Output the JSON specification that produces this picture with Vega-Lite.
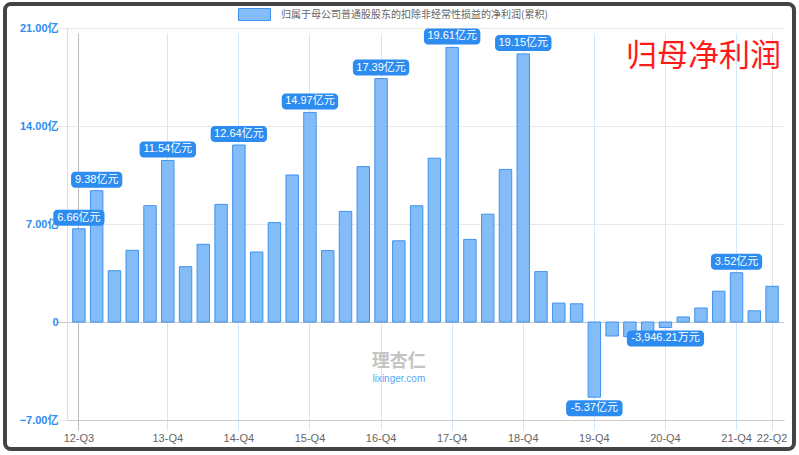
{
  "$schema": "https://vega.github.io/schema/vega-lite/v6.json",
  "width": 789,
  "height": 445,
  "autosize": {"type": "none"},
  "padding": {"left": 5, "top": 4, "right": 5, "bottom": 6},
  "background": "white",
  "config": {
    "view": {"stroke": "#444444", "strokeWidth": 4, "cornerRadius": 6, "fill": "white"}
  },
  "title": {
    "text": "归母净利润",
    "orient": "top",
    "anchor": "end",
    "frame": "group",
    "offset": 0,
    "dy": 99,
    "dx": -13,
    "baseline": "alphabetic",
    "fontSize": 31,
    "font": "Noto Sans CJK SC",
    "fontWeight": "normal",
    "color": "#ff1a1a"
  },
  "data": {
    "values": [
      {"quarter": "12-Q3", "value": 6.66, "label": "6.66亿元"},
      {"quarter": "12-Q4", "value": 9.38, "label": "9.38亿元"},
      {"quarter": "13-Q1", "value": 3.66},
      {"quarter": "13-Q2", "value": 5.12},
      {"quarter": "13-Q3", "value": 8.31},
      {"quarter": "13-Q4", "value": 11.54, "label": "11.54亿元"},
      {"quarter": "14-Q1", "value": 3.95},
      {"quarter": "14-Q2", "value": 5.55},
      {"quarter": "14-Q3", "value": 8.4},
      {"quarter": "14-Q4", "value": 12.64, "label": "12.64亿元"},
      {"quarter": "15-Q1", "value": 5.0},
      {"quarter": "15-Q2", "value": 7.1},
      {"quarter": "15-Q3", "value": 10.5},
      {"quarter": "15-Q4", "value": 14.97, "label": "14.97亿元"},
      {"quarter": "16-Q1", "value": 5.1},
      {"quarter": "16-Q2", "value": 7.9},
      {"quarter": "16-Q3", "value": 11.1},
      {"quarter": "16-Q4", "value": 17.39, "label": "17.39亿元"},
      {"quarter": "17-Q1", "value": 5.8},
      {"quarter": "17-Q2", "value": 8.3},
      {"quarter": "17-Q3", "value": 11.7},
      {"quarter": "17-Q4", "value": 19.61, "label": "19.61亿元"},
      {"quarter": "18-Q1", "value": 5.9},
      {"quarter": "18-Q2", "value": 7.7},
      {"quarter": "18-Q3", "value": 10.9},
      {"quarter": "18-Q4", "value": 19.15, "label": "19.15亿元"},
      {"quarter": "19-Q1", "value": 3.6},
      {"quarter": "19-Q2", "value": 1.35},
      {"quarter": "19-Q3", "value": 1.3},
      {"quarter": "19-Q4", "value": -5.37, "label": "-5.37亿元"},
      {"quarter": "20-Q1", "value": -1.0},
      {"quarter": "20-Q2", "value": -1.05},
      {"quarter": "20-Q3", "value": -0.95},
      {"quarter": "20-Q4", "value": -0.39, "label": "-3,946.21万元"},
      {"quarter": "21-Q1", "value": 0.36},
      {"quarter": "21-Q2", "value": 1.0},
      {"quarter": "21-Q3", "value": 2.2},
      {"quarter": "21-Q4", "value": 3.52, "label": "3.52亿元"},
      {"quarter": "22-Q1", "value": 0.8},
      {"quarter": "22-Q2", "value": 2.55}
    ]
  },
  "layer": [
    {
      "mark": {"type": "bar", "stroke": "#3f92f0", "strokeWidth": 1},
      "encoding": {
        "x": {
          "field": "quarter",
          "type": "ordinal",
          "scale": {
            "domain": ["12-Q3","12-Q4","13-Q1","13-Q2","13-Q3","13-Q4","14-Q1","14-Q2","14-Q3","14-Q4","15-Q1","15-Q2","15-Q3","15-Q4","16-Q1","16-Q2","16-Q3","16-Q4","17-Q1","17-Q2","17-Q3","17-Q4","18-Q1","18-Q2","18-Q3","18-Q4","19-Q1","19-Q2","19-Q3","19-Q4","20-Q1","20-Q2","20-Q3","20-Q4","21-Q1","21-Q2","21-Q3","21-Q4","22-Q1","22-Q2"],
            "range": [62, 779],
            "paddingInner": 0.3,
            "paddingOuter": 0.32
          },
          "axis": {
            "values": ["12-Q3","13-Q4","14-Q4","15-Q4","16-Q4","17-Q4","18-Q4","19-Q4","20-Q4","21-Q4","22-Q2"],
            "title": null,
            "offset": -29,
            "bandPosition": 0.5,
            "grid": true,
            "gridColor": {"condition": [{"test": "datum.value === '12-Q3'", "value": "#bdbdbd"}, {"test": "datum.value === '22-Q2'", "value": "#e3e3e3"}], "value": "#d3e6fb"},
            "tickColor": {"condition": [{"test": "datum.value === '12-Q3'", "value": "#bdbdbd"}, {"test": "datum.value === '22-Q2'", "value": "#e3e3e3"}], "value": "#d3e6fb"},
            "tickSize": 10,
            "domainColor": "#cccccc",
            "labelColor": "#666666",
            "labelFontSize": 11,
            "labelFont": "Liberation Sans",
            "labelPadding": 2,
            "labelAngle": 0,
            "labelOverlap": false
          }
        },
        "y": {
          "field": "value",
          "type": "quantitative",
          "scale": {"domain": [-7, 21], "range": [416, 24], "nice": false, "zero": false},
          "axis": {
            "values": [-7, 0, 7, 14, 21],
            "title": null,
            "offset": -62,
            "labelExpr": "datum.value === 0 ? '0' : format(datum.value, '.2f') + '亿'",
            "gridColor": {"condition": {"test": "datum.value === 0", "value": "#c8c8c8"}, "value": "#e8e8e8"},
            "tickColor": {"condition": {"test": "datum.value === 0", "value": "#c8c8c8"}, "value": "#e8e8e8"},
            "tickSize": 10,
            "labelPadding": -1,
            "domainColor": "#dddddd",
            "labelColor": "#2d8cf0",
            "labelFontSize": 11,
            "labelFontWeight": "bold",
            "labelFont": "Liberation Sans, Noto Sans CJK SC",
            "labelFlush": false
          }
        },
        "y2": {"datum": 0},
        "fill": {
          "datum": "归属于母公司普通股股东的扣除非经常性损益的净利润(累积)",
          "type": "nominal",
          "scale": {"range": ["#84bcf8"]},
          "legend": {
            "title": null,
            "orient": "none",
            "legendX": 233,
            "legendY": -6,
            "padding": 0,
            "symbolType": "M-1,-0.375H1V0.375H-1Z",
            "symbolSize": 1024,
            "symbolStrokeColor": "#3f92f0",
            "symbolStrokeWidth": 1,
            "labelFontSize": 10,
            "labelColor": "#666666",
            "labelFont": "Noto Sans CJK SC",
            "labelOffset": 10,
            "labelLimit": 400
          }
        }
      }
    },
    {
      "transform": [{"filter": "isValid(datum.label) && datum.value >= 0"}],
      "mark": {"type": "bar", "color": "#2d8cf0", "cornerRadius": 4, "yOffset": -19, "y2Offset": -3},
      "encoding": {
        "x": {"field": "quarter", "type": "ordinal"},
        "y": {"field": "value", "type": "quantitative"},
        "y2": {"field": "value"},
        "size": {"value": {"expr": "5.2*length(datum.label)+20"}}
      }
    },
    {
      "transform": [{"filter": "isValid(datum.label) && datum.value < 0"}],
      "mark": {"type": "bar", "color": "#2d8cf0", "cornerRadius": 4, "yOffset": 3, "y2Offset": 19},
      "encoding": {
        "x": {"field": "quarter", "type": "ordinal"},
        "y": {"field": "value", "type": "quantitative"},
        "y2": {"field": "value"},
        "size": {"value": {"expr": "5.2*length(datum.label)+20"}}
      }
    },
    {
      "transform": [{"filter": "isValid(datum.label) && datum.value >= 0"}],
      "mark": {"type": "text", "color": "white", "fontSize": 11, "dy": -11, "baseline": "middle", "font": "Liberation Sans, Noto Sans CJK SC"},
      "encoding": {
        "x": {"field": "quarter", "type": "ordinal"},
        "y": {"field": "value", "type": "quantitative"},
        "text": {"field": "label"}
      }
    },
    {
      "transform": [{"filter": "isValid(datum.label) && datum.value < 0"}],
      "mark": {"type": "text", "color": "white", "fontSize": 11, "dy": 11, "baseline": "middle", "font": "Liberation Sans, Noto Sans CJK SC"},
      "encoding": {
        "x": {"field": "quarter", "type": "ordinal"},
        "y": {"field": "value", "type": "quantitative"},
        "text": {"field": "label"}
      }
    },
    {
      "data": {"values": [{"t": "理杏仁", "q": "17-Q1", "v": -2.86}]},
      "mark": {"type": "text", "color": "#c4c4c4", "fontSize": 18, "fontWeight": "bold", "baseline": "middle", "font": "Noto Sans CJK SC"},
      "encoding": {
        "x": {"field": "q", "type": "ordinal"},
        "y": {"field": "v", "type": "quantitative"},
        "text": {"field": "t"}
      }
    },
    {
      "data": {"values": [{"t": "lixinger.com", "q": "17-Q1", "v": -4.07}]},
      "mark": {"type": "text", "color": "#5aa6f0", "fontSize": 10, "baseline": "middle", "font": "Liberation Sans"},
      "encoding": {
        "x": {"field": "q", "type": "ordinal"},
        "y": {"field": "v", "type": "quantitative"},
        "text": {"field": "t"}
      }
    }
  ]
}
